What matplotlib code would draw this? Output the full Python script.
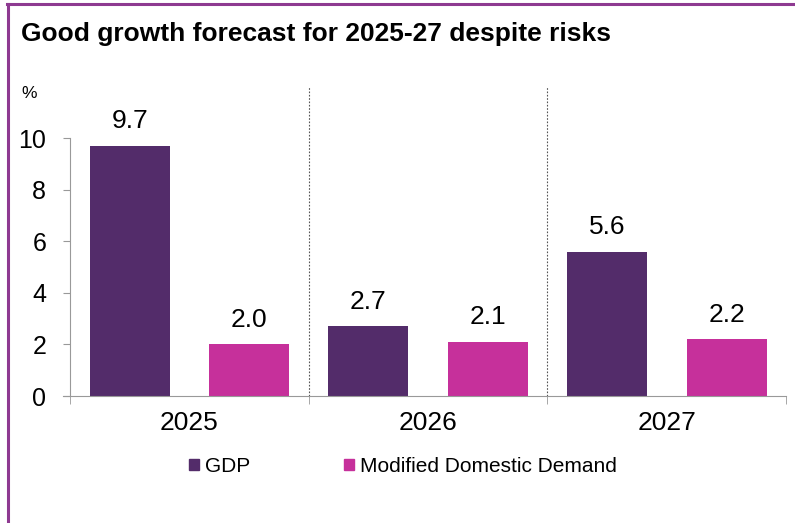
import numpy as np
import matplotlib
matplotlib.use("Agg")
import matplotlib.pyplot as plt
from matplotlib.patches import Patch

plt.rcParams['font.family'] = ['Liberation Sans', 'DejaVu Sans']

# data
years = ["2025", "2026", "2027"]
gdp = [9.7, 2.7, 5.6]
mdd = [2.0, 2.1, 2.2]
series_names = ["GDP", "Modified Domestic Demand"]

gdp_color = "#532C6A"
mdd_color = "#C6309B"
frame_color = "#8E3A91"

fig = plt.figure(figsize=(7.95, 5.23), dpi=100)
ax = fig.add_axes([0.088, 0.2428, 0.901, 0.592])

x = np.arange(len(years))
w = 0.335
b1 = ax.bar(x - 0.25, gdp, w, color=gdp_color)
b2 = ax.bar(x + 0.25, mdd, w, color=mdd_color)

for bars, vals in ((b1, gdp), (b2, mdd)):
    for r, v in zip(bars, vals):
        ax.annotate(f"{v:.1f}", (r.get_x() + r.get_width() / 2, v),
                    xytext=(0, 9), textcoords="offset points",
                    ha="center", va="bottom", fontsize=19)

# dotted separators between years
for sx in (0.5, 1.5):
    ax.plot([sx, sx], [0, 12], color="#555555", lw=0.8, ls=(0, (1.5, 1.5)))

ax.set_xlim(-0.5, 2.5)
ax.set_ylim(0, 12)
ax.set_yticks([0, 2, 4, 6, 8, 10])
ax.set_xticks(x)
ax.set_xticklabels(years)
ax.set_xticks([-0.5, 0.5, 1.5, 2.5], minor=True)

for s in ("top", "right"):
    ax.spines[s].set_visible(False)
ax.spines["left"].set_bounds(0, 10)
ax.spines["left"].set_color("#999999")
ax.spines["bottom"].set_color("#999999")
ax.spines["bottom"].set_bounds(-0.53, 2.5)
ax.tick_params(axis="y", labelsize=18, color="#999999", length=5, pad=12)
ax.tick_params(axis="x", which="major", length=0, labelsize=19, pad=11)
ax.tick_params(axis="x", which="minor", length=6, color="#999999")

fig.text(0.027, 0.812, "%", fontsize=12.5)
fig.text(0.027, 0.935, "Good growth forecast for 2025-27 despite risks",
         fontsize=19, fontweight="bold", va="center")

handles = [Patch(color=gdp_color), Patch(color=mdd_color)]
fig.legend(handles, series_names, loc="center", bbox_to_anchor=(0.507, 0.108),
           ncol=2, frameon=False, fontsize=15, handlelength=0.48,
           handleheight=0.48, handletextpad=0.3, columnspacing=4.5)

# frame lines (top and left)
fig.add_artist(plt.Line2D([0.009, 1.0], [0.992, 0.992], color=frame_color, lw=2.2,
                          transform=fig.transFigure))
fig.add_artist(plt.Line2D([0.0105, 0.0105], [0.0, 0.992], color=frame_color, lw=2.2,
                          transform=fig.transFigure))

fig.savefig("out.png", dpi=100)
